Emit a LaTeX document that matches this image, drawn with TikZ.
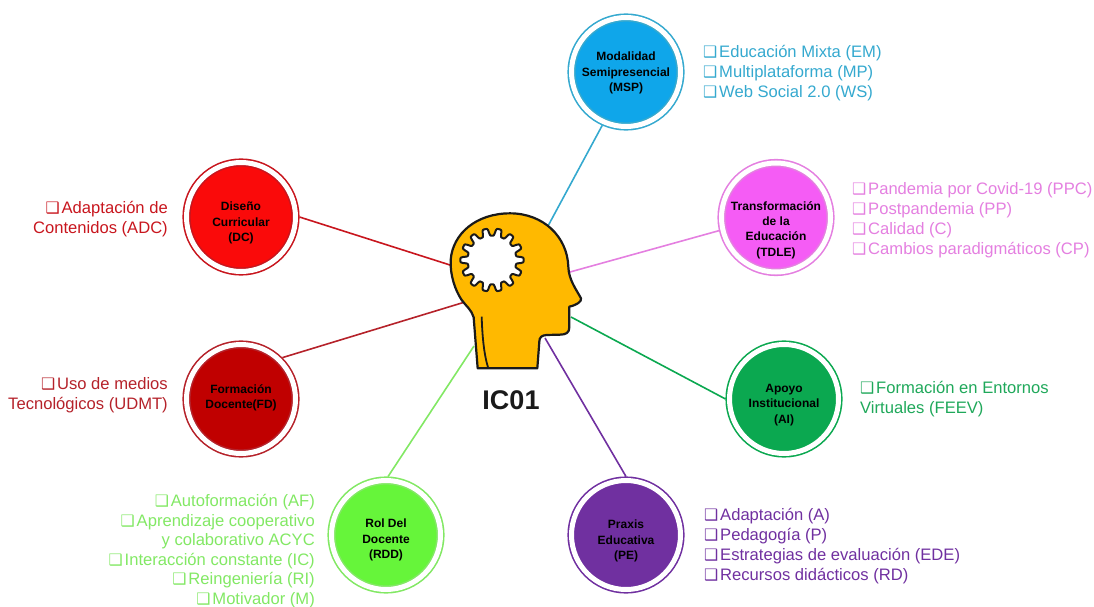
\documentclass[tikz,border=0pt]{standalone}
\usepackage{fontspec}
\setmainfont{Liberation Sans}
\newfontfamily\dv{DejaVu Sans}
\newcommand{\bx}{\makebox[16pt][l]{\dv\fontsize{15.8}{12}\selectfont ❑}}
\definecolor{cmsp}{HTML}{0FA6EA}\definecolor{lmsp}{HTML}{35A9CF}
\definecolor{ctdle}{HTML}{F55CF5}\definecolor{ltdle}{HTML}{E47FE0}
\definecolor{cai}{HTML}{0BA850}\definecolor{lai}{HTML}{1FA85A}
\definecolor{cpe}{HTML}{7030A0}
\definecolor{crdd}{HTML}{66F53A}\definecolor{lrdd}{HTML}{82E864}
\definecolor{cfd}{HTML}{C00000}\definecolor{lfd}{HTML}{B5222A}
\definecolor{cdc}{HTML}{FA0A0A}\definecolor{ldc}{HTML}{C8161E}
\definecolor{head}{HTML}{FFB900}\definecolor{ink}{HTML}{1A1A1A}
\tikzset{
  hub/.style 2 args={circle,draw=#2,fill=#1,double=white,double distance=5pt,line width=1.6pt,
    minimum size=109pt,outer sep=4pt,inner sep=0pt},
  hubtext/.style={align=center,text=black,inner sep=0pt,font=\bfseries\fontsize{12}{15.3}\selectfont},
  lbl/.style={text=#1,inner sep=0pt,font=\fontsize{16.6}{20}\selectfont},
  link/.style={draw=#1,line width=1.6pt}
}
\begin{document}
\begin{tikzpicture}[x=1pt,y=-1pt]
\useasboundingbox (0,0) rectangle (1094,607);
% head anchor points
\coordinate (hmsp) at (548,226);
\coordinate (htdle) at (570,272);
\coordinate (hai) at (571,317);
\coordinate (hpe) at (545,338);
\coordinate (hrdd) at (474,346);
\coordinate (hfd) at (465,302);
\coordinate (hdc) at (450,265);
% hubs
\node[hub={cmsp}{lmsp}] (msp) at (626,72) {};
\node[hub={ctdle}{ltdle}] (tdle) at (776,217.5) {};
\node[hub={cai}{cai}] (ai) at (784,399) {};
\node[hub={cpe}{cpe}] (pe) at (626,535) {};
\node[hub={crdd}{lrdd}] (rdd) at (386,535) {};
\node[hub={cfd}{lfd}] (fd) at (241,399) {};
\node[hub={cdc}{ldc}] (dc) at (241,217) {};
\node[hubtext] (tmsp) at (626,73) {Modalidad\\Semipresencial\\(MSP)};
\node[hubtext] (ttdle) at (776,230) {Transformación\\de la\\Educación\\(TDLE)};
\node[hubtext] (tai) at (784,405) {Apoyo\\Institucional\\(AI)};
\node[hubtext] (tpe) at (626,541) {Praxis\\Educativa\\(PE)};
\node[hubtext] (trdd) at (386,540) {Rol Del\\Docente\\(RDD)};
\node[hubtext] (tfd) at (241,398) {Formación\\Docente(FD)};
\node[hubtext] (tdc) at (241,223) {Diseño\\Curricular\\(DC)};
% connectors
\draw[link=lmsp] (msp.246) -- (hmsp);
\draw[link=ltdle] (tdle.193) -- (htdle);
\draw[link=cai] (ai.180) -- (hai);
\draw[link=cpe] (pe.90) -- (hpe);
\draw[link=lrdd] (rdd.88) -- (hrdd);
\draw[link=lfd] (fd.45) -- (hfd);
\draw[link=ldc] (dc.0) -- (hdc);
% head
\begin{scope}[shift={(430,200)},x=0.3333pt,y=-0.3333pt]
\filldraw[fill=head,draw=ink,line width=2.2pt,line join=round]
 (143,505) -- (131,352) .. controls (125,330) and (108,318) .. (95,300)
 .. controls (75,270) and (60,225) .. (62,180)
 .. controls (68,100) and (140,40) .. (240,40)
 .. controls (340,40) and (412,110) .. (415,200)
 .. controls (416,240) and (440,270) .. (453,295)
 .. controls (456,305) and (440,315) .. (418,320)
 -- (418,382) .. controls (418,398) and (408,404) .. (390,404)
 -- (350,405) .. controls (335,406) and (328,412) .. (328,425)
 -- (322,505) -- cycle;
\draw[draw=ink,line width=1.8pt] (155,350) .. controls (157,410) and (162,465) .. (175,505);
\begin{scope}[shift={(186,180)}]
\filldraw[fill=white,draw=ink,line width=2pt,line join=round]
 plot[samples=240,domain=0:358.5,sharp cycle] (\x:{84+11*tanh(2.6*sin(14*\x+90))});
\end{scope}
\end{scope}
\node[font=\bfseries\fontsize{27}{30}\selectfont,text=ink,inner sep=0pt] (ic) at (511,400) {IC01};
% labels
\node[lbl=lmsp,anchor=west,align=left] (lm) at (703,73.5) {\bx Educación Mixta (EM)\\\bx Multiplataforma (MP)\\\bx Web Social 2.0 (WS)};
\node[lbl=ltdle,anchor=west,align=left] (lt) at (852,220) {\bx Pandemia por Covid-19 (PPC)\\\bx Postpandemia (PP)\\\bx Calidad (C)\\\bx Cambios paradigmáticos (CP)};
\node[lbl=lai,anchor=west,align=left] (la) at (860,399) {\bx Formación en Entornos\\Virtuales (FEEV)};
\node[lbl=cpe,anchor=west,align=left] (lp) at (704,546) {\bx Adaptación (A)\\\bx Pedagogía (P)\\\bx Estrategias de evaluación (EDE)\\\bx Recursos didácticos (RD)};
\node[lbl=lrdd,anchor=east,align=right,font=\fontsize{16.6}{19.6}\selectfont] (lr) at (315,551) {\bx Autoformación (AF)\\\bx Aprendizaje cooperativo\\y colaborativo ACYC\\\bx Interacción constante (IC)\\\bx Reingeniería (RI)\\\bx Motivador (M)};
\node[lbl=lfd,anchor=east,align=right] (lf) at (168,395) {\bx Uso de medios\\Tecnológicos (UDMT)};
\node[lbl=ldc,anchor=east,align=right] (ld) at (168,219) {\bx Adaptación de\\Contenidos (ADC)};
\end{tikzpicture}
\end{document}
